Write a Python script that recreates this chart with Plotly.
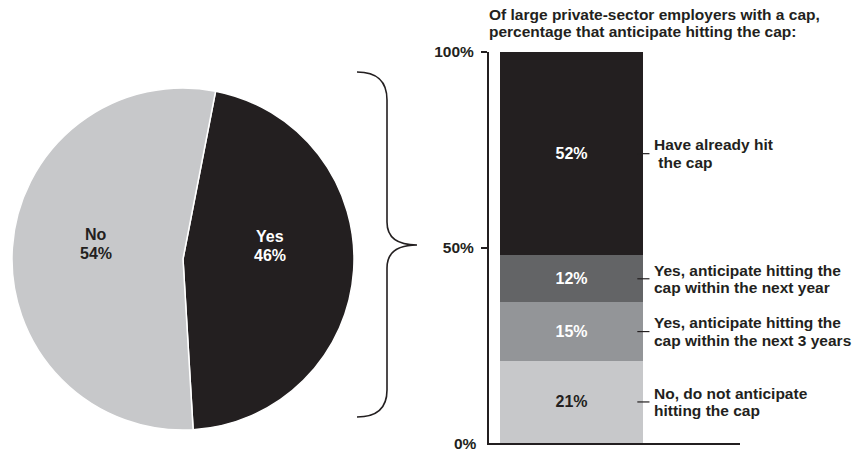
import plotly.graph_objects as go

# ---------------- data ----------------
pie_labels = ["Yes", "No"]
pie_values = [46, 54]
pie_colors = ["#231f20", "#c7c8ca"]
pie_text_colors = ["#ffffff", "#231f20"]

seg_labels = [
    ["No, do not anticipate", "hitting the cap"],
    ["Yes, anticipate hitting the", "cap within the next 3 years"],
    ["Yes, anticipate hitting the", "cap within the next year"],
    ["Have already hit", " the cap"],
]
seg_values = [21, 15, 12, 52]
seg_colors = ["#c7c8ca", "#939598", "#636466", "#231f20"]
seg_text_colors = ["#231f20", "#ffffff", "#ffffff", "#ffffff"]

y_tickvals = [0, 50, 100]
y_ticktext = ["0%", "50%", "100%"]
bar_title = ["Of large private-sector employers with a cap,",
             "percentage that anticipate hitting the cap:"]

# ---------------- layout helpers ----------------
W, H = 859, 454
FONT = "Liberation Sans, Arial, Helvetica, sans-serif"
INK = "#231f20"
FS = 15.5
LS = 17.5  # line spacing in px
# pixel anchor of each pie slice's label (layout, not data)
PIE_LABEL_XY = [(270, 246), (96, 244)]


def px(x):
    return x / W


def py(y):
    return 1 - y / H


def tfont(size=FS, color=INK):
    return dict(family=FONT, size=size, color=color, weight="bold")


fig = go.Figure()

# Pie
fig.add_trace(go.Pie(
    labels=pie_labels,
    values=pie_values,
    sort=False,
    direction="clockwise",
    rotation=11,
    marker=dict(colors=pie_colors, line=dict(color="white", width=1.5)),
    textinfo="none",
    domain=dict(x=[px(12), px(354)], y=[py(430), py(88)]),
    hoverinfo="skip",
    showlegend=False,
))

shapes = []
annotations = []

# Pie labels
for lab, v, tc, (ax, ay) in zip(pie_labels, pie_values, pie_text_colors, PIE_LABEL_XY):
    lines = [lab, f"{v}%"]
    n = len(lines)
    for i, ln in enumerate(lines):
        off = (i - (n - 1) / 2) * 19
        annotations.append(dict(x=px(ax), y=py(ay), xref="paper", yref="paper",
                                xanchor="center", yanchor="middle", yshift=-off,
                                showarrow=False, text=ln, font=tfont(16, tc)))

# Stacked bar
for v, c, tc in zip(seg_values, seg_colors, seg_text_colors):
    fig.add_trace(go.Bar(
        x=[1], y=[v], width=1,
        marker=dict(color=c, line=dict(width=0)),
        text=[f"{v}%"],
        textposition="inside",
        insidetextanchor="middle",
        textfont=tfont(16, tc),
        hoverinfo="skip",
        showlegend=False,
    ))

# Leader lines + labels derived from cumulative segment midpoints
cum = 0
for v, lines in zip(seg_values, seg_labels):
    mid = cum + v / 2
    cum += v
    shapes.append(dict(type="line", xref="x", yref="y", x0=1.46, x1=1.545, y0=mid, y1=mid,
                       line=dict(color=INK, width=1.2)))
    n = len(lines)
    for i, ln in enumerate(lines):
        off = (i - (n - 1) / 2) * LS
        annotations.append(dict(x=1.565, y=mid, xref="x", yref="y", xanchor="left", yanchor="middle",
                                yshift=-off, align="left", showarrow=False, text=ln,
                                font=tfont()))

for i, ln in enumerate(bar_title):
    annotations.append(dict(x=px(487), y=py(14 + i * LS), xref="paper", yref="paper",
                            xanchor="left", yanchor="middle", align="left", showarrow=False,
                            text=ln, font=tfont()))

# "0%" label sits beside the axis corner without a tick mark
annotations.append(dict(x=px(465), y=y_tickvals[0], xref="paper", yref="y",
                        xanchor="center", yanchor="middle", yshift=0,
                        showarrow=False, text=y_ticktext[0], font=tfont()))

# Brace
brace = (f"M {px(357)},{py(72)} Q {px(387)},{py(72)} {px(387)},{py(100)} "
         f"L {px(387)},{py(222)} Q {px(387)},{py(245)} {px(417)},{py(245)} "
         f"Q {px(387)},{py(245)} {px(387)},{py(268)} "
         f"L {px(387)},{py(390)} Q {px(387)},{py(417)} {px(357)},{py(417)}")
shapes.append(dict(type="path", xref="paper", yref="paper", path=brace,
                   line=dict(color=INK, width=1.6)))

fig.update_layout(
    width=W, height=H,
    margin=dict(l=0, r=0, t=0, b=0, pad=0, autoexpand=False),
    paper_bgcolor="white", plot_bgcolor="white",
    barmode="stack",
    font=tfont(),
    shapes=shapes,
    annotations=annotations,
    xaxis=dict(domain=[px(489), px(740)], range=[0.423, 2.178], automargin=False,
               showticklabels=False, ticks="", showgrid=False, zeroline=False,
               showline=True, linecolor=INK, linewidth=2, fixedrange=True),
    yaxis=dict(domain=[py(443), py(52)], range=[0, 100], automargin=False,
               tickvals=y_tickvals[1:], ticktext=y_ticktext[1:],
               ticks="outside", ticklen=6, tickwidth=1.5, tickcolor=INK,
               ticklabelstandoff=4,
               showgrid=False, zeroline=False,
               showline=True, linecolor=INK, linewidth=2, fixedrange=True,
               tickfont=tfont()),
)

fig.write_html(
    "out.html",
    config={"displayModeBar": False},
    post_script="document.body.style.margin='0';document.body.style.padding='0';document.body.style.overflow='hidden';",
)
